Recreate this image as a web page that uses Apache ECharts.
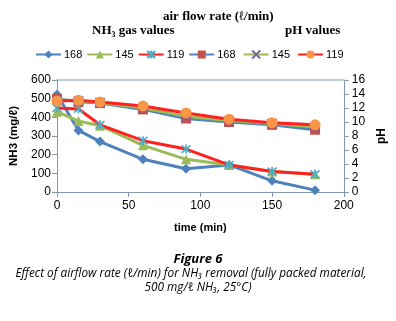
<!DOCTYPE html>
<html>
<head>
<meta charset="utf-8">
<script src="https://cdn.jsdelivr.net/npm/echarts@6/dist/echarts.min.js"></script>
<style>
    html, body { margin: 0; padding: 0; background: #fff; }
    #chart { width: 396px; height: 321px; }
</style>
</head>
<body>
<div id="chart"></div>
<script>
// 时间 (min)
const times = [0, 15, 30, 60, 90, 120, 150, 180];
// NH3 (mg/ℓ)，左轴
const nh3_168 = [522, 330, 270, 175, 125, 145, 60, 10];
const nh3_145 = [430, 380, 355, 250, 175, 145, 110, 95];
const nh3_119 = [450, 445, 360, 275, 230, 145, 110, 95];
// pH，右轴
const ph_168 = [13.3, 12.9, 12.7, 11.8, 10.5, 10.0, 9.6, 8.9];
const ph_145 = [13.2, 13.0, 12.8, 12.0, 10.8, 10.2, 9.8, 9.3];
const ph_119 = [13.0, 13.1, 12.85, 12.3, 11.3, 10.4, 9.9, 9.6];

const starPath = 'path://M5,0L5,10M0.8,0.8L9.2,9.2M9.2,0.8L0.8,9.2';
const xPath = 'path://M0,0L10,10M10,0L0,10';

function pairs(vals) {
    return times.map((t, i) => [t, vals[i]]);
}

function makeSeries(name, vals, axis, lineColor, symbol, markColor, stroke) {
    return {
        name: name,
        type: 'line',
        yAxisIndex: axis,
        data: pairs(vals),
        symbol: symbol,
        symbolSize: stroke ? 9 : (symbol === 'circle' ? 11 : 10),
        lineStyle: { color: lineColor, width: 3 },
        itemStyle: stroke
            ? { color: 'rgba(0,0,0,0)', borderColor: markColor, borderWidth: 1.6 }
            : { color: markColor, borderWidth: 0 },
        emphasis: { disabled: true },
        animation: false
    };
}

const chart = echarts.init(document.getElementById('chart'));

const axisColor = '#8497B0';
const serif = '"Liberation Serif", "DejaVu Serif", serif';
const sans = '"Liberation Sans", "DejaVu Sans", sans-serif';
const capFont = '"Open Sans", "Noto Sans", sans-serif';

const option = {
    backgroundColor: '#fff',
    title: [
        { text: 'air flow rate (ℓ/min)', left: 158, top: 5, textStyle: { fontFamily: serif, fontWeight: 'bold', fontSize: 13, color: '#000' } },
        { text: 'NH₃ gas values', left: 87, top: 19, textStyle: { fontFamily: serif, fontWeight: 'bold', fontSize: 13, color: '#000' } },
        { text: 'pH values', left: 280, top: 19, textStyle: { fontFamily: serif, fontWeight: 'bold', fontSize: 13, color: '#000' } }
    ],
    legend: {
        left: 30, top: 44,
        itemWidth: 25, itemHeight: 10, itemGap: 4,
        textStyle: { fontFamily: sans, fontSize: 11, color: '#000', padding: [0, 0, 0, -2] },
        data: ['168', '145', '119', '168 ', '145 ', '119 ']
    },
    grid: { left: 57, right: 52, top: 80, bottom: 129 },
    xAxis: {
        type: 'value', min: 0, max: 200, interval: 50,
        name: 'time (min)', nameLocation: 'middle', nameGap: 30,
        nameTextStyle: { fontFamily: sans, fontWeight: 'bold', fontSize: 11, color: '#000' },
        axisLine: { show: true, lineStyle: { color: axisColor } },
        axisTick: { show: true, lineStyle: { color: axisColor } },
        axisLabel: { fontFamily: sans, fontSize: 12, color: '#000', margin: 8 },
        splitLine: { show: false }
    },
    yAxis: [
        {
            type: 'value', min: 0, max: 600, interval: 100,
            name: 'NH3 (mg/ℓ)', nameLocation: 'middle', nameGap: 37,
            nameTextStyle: { fontFamily: sans, fontWeight: 'bold', fontSize: 11.5, color: '#000' },
            axisLine: { show: true, lineStyle: { color: axisColor } },
            axisTick: { show: true, lineStyle: { color: axisColor } },
            axisLabel: { fontFamily: sans, fontSize: 12, color: '#000', margin: 6 },
            splitLine: { show: false }
        },
        {
            type: 'value', min: 0, max: 16, interval: 2, position: 'right',
            name: 'pH', nameLocation: 'middle', nameGap: 31, nameRotate: 90,
            nameTextStyle: { fontFamily: sans, fontWeight: 'bold', fontSize: 12, color: '#000' },
            axisLine: { show: true, lineStyle: { color: axisColor } },
            axisTick: { show: true, lineStyle: { color: axisColor } },
            axisLabel: { fontFamily: sans, fontSize: 12, color: '#000', margin: 8 },
            splitLine: { show: false }
        }
    ],
    graphic: [
        // 上边框
        { type: 'line', shape: { x1: 57, y1: 80, x2: 344, y2: 80 }, style: { stroke: axisColor, lineWidth: 1 }, silent: true },
        // 图注
        { type: 'text', x: 198, y: 253, style: { text: 'Figure 6', align: 'center', fontFamily: capFont, fontStyle: 'italic', fontWeight: 'bold', fontSize: 13, fill: '#000' } },
        { type: 'text', x: 191, y: 268, style: { text: 'Effect of airflow rate (ℓ/min) for NH₃ removal (fully packed material,', align: 'center', fontFamily: capFont, fontStyle: 'italic', fontSize: 11.8, fill: '#000' } },
        { type: 'text', x: 198, y: 282, style: { text: '500 mg/ℓ NH₃, 25°C)', align: 'center', fontFamily: capFont, fontStyle: 'italic', fontSize: 11.8, fill: '#000' } }
    ],
    series: [
        makeSeries('168', nh3_168, 0, '#4F81BD', 'diamond', '#4F81BD', false),
        makeSeries('145', nh3_145, 0, '#9BBB59', 'triangle', '#9BBB59', false),
        makeSeries('119', nh3_119, 0, '#FF2020', starPath, '#4BACC6', true),
        makeSeries('168 ', ph_168, 1, '#4F81BD', 'rect', '#C0504D', false),
        makeSeries('145 ', ph_145, 1, '#9BBB59', xPath, '#8064A2', true),
        makeSeries('119 ', ph_119, 1, '#FF2020', 'circle', '#F79646', false)
    ]
};

chart.setOption(option);
</script>
</body>
</html>
